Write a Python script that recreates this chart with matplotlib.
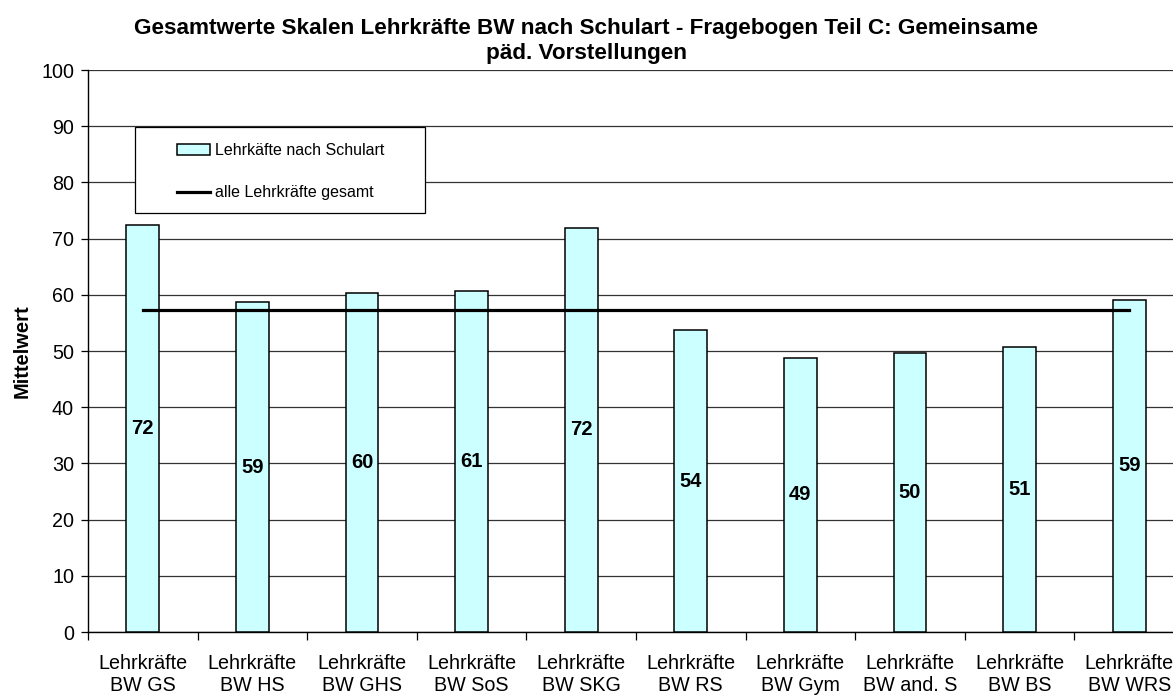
import numpy as np
import matplotlib.pyplot as plt
from matplotlib.lines import Line2D
from matplotlib.patches import Patch, Rectangle

plt.rcParams['font.family'] = ['Liberation Sans', 'DejaVu Sans']

# values
categories = ['Lehrkräfte\nBW GS', 'Lehrkräfte\nBW HS', 'Lehrkräfte\nBW GHS', 'Lehrkräfte\nBW SoS',
              'Lehrkräfte\nBW SKG', 'Lehrkräfte\nBW RS', 'Lehrkräfte\nBW Gym', 'Lehrkräfte\nBW and. S',
              'Lehrkräfte\nBW BS', 'Lehrkräfte\nBW WRS']
means = [72.4, 58.7, 60.3, 60.6, 71.9, 53.7, 48.8, 49.7, 50.7, 59.1]
mean_total = 57.35
yticks = list(range(0, 101, 10))

title = 'Gesamtwerte Skalen Lehrkräfte BW nach Schulart - Fragebogen Teil C: Gemeinsame\npäd. Vorstellungen'
legend_labels = ['Lehrkäfte nach Schulart', 'alle Lehrkräfte gesamt']

W, H = 1173, 695
fig = plt.figure(figsize=(W / 100, H / 100), dpi=100)
# plot area runs past the right edge, like the original export
ax = fig.add_axes([88 / W, 1 - 632 / H, 1096 / W, 562 / H])

x = np.arange(len(categories))
ax.bar(x, means, width=0.30, color='#CCFFFF', edgecolor='black', linewidth=1.1, zorder=3)
ax.plot([x[0], x[-1]], [mean_total, mean_total], color='black', linewidth=2.3, zorder=4)

for xi, v in zip(x, means):
    ax.text(xi, v / 2, f'{round(v)}', ha='center', va='center', fontsize=14.5,
            fontweight='bold', zorder=5)

ax.set_xlim(-0.5, len(categories) - 0.5)
ax.set_ylim(0, 100)
ax.set_yticks(yticks)
ax.yaxis.grid(True, color='#333333', linewidth=0.9, zorder=0)
ax.tick_params(axis='y', direction='out', length=5, width=0.9, labelsize=14.2, pad=5)

ax.set_xticks(np.arange(-0.5, len(categories), 1.0))
ax.set_xticklabels([])
ax.set_xticks(x, minor=True)
ax.set_xticklabels(categories, minor=True, fontsize=14.2, linespacing=1.2)
ax.tick_params(axis='x', which='major', direction='out', length=6, width=0.9)
ax.tick_params(axis='x', which='minor', length=0, pad=16)

for s in ['top', 'right']:
    ax.spines[s].set_visible(False)
for s in ['left', 'bottom']:
    ax.spines[s].set_color('black')
    ax.spines[s].set_linewidth(1.0)

ax.set_ylabel('Mittelwert', fontsize=14.5, fontweight='bold')
ax.yaxis.set_label_coords(-(88 - 32) / 1096, 0.5)

fig.text(0.5, 1 - 41 / H, title, ha='center', va='center', fontsize=16.2,
         fontweight='bold', linespacing=1.2)

# legend box drawn separately so the entries can sit with a wide left margin
ax.add_patch(Rectangle((47 / 1096, (632 - 213) / 562), 290 / 1096, 86 / 562,
                       transform=ax.transAxes, facecolor='white', edgecolor='black',
                       linewidth=0.9, zorder=6))
handles = [Patch(facecolor='#CCFFFF', edgecolor='black', linewidth=1.1),
           Line2D([0], [0], color='black', linewidth=2.3)]
leg = ax.legend(handles, legend_labels, loc='upper left',
                bbox_to_anchor=((177 - 88) / 1096, (632 - 143) / 562),
                fontsize=11.5, frameon=False, borderpad=0, labelspacing=1.72,
                handlelength=2.05, handleheight=0.62, handletextpad=0.3, borderaxespad=0)
leg.set_zorder(7)

fig.savefig('out.png', dpi=100)
